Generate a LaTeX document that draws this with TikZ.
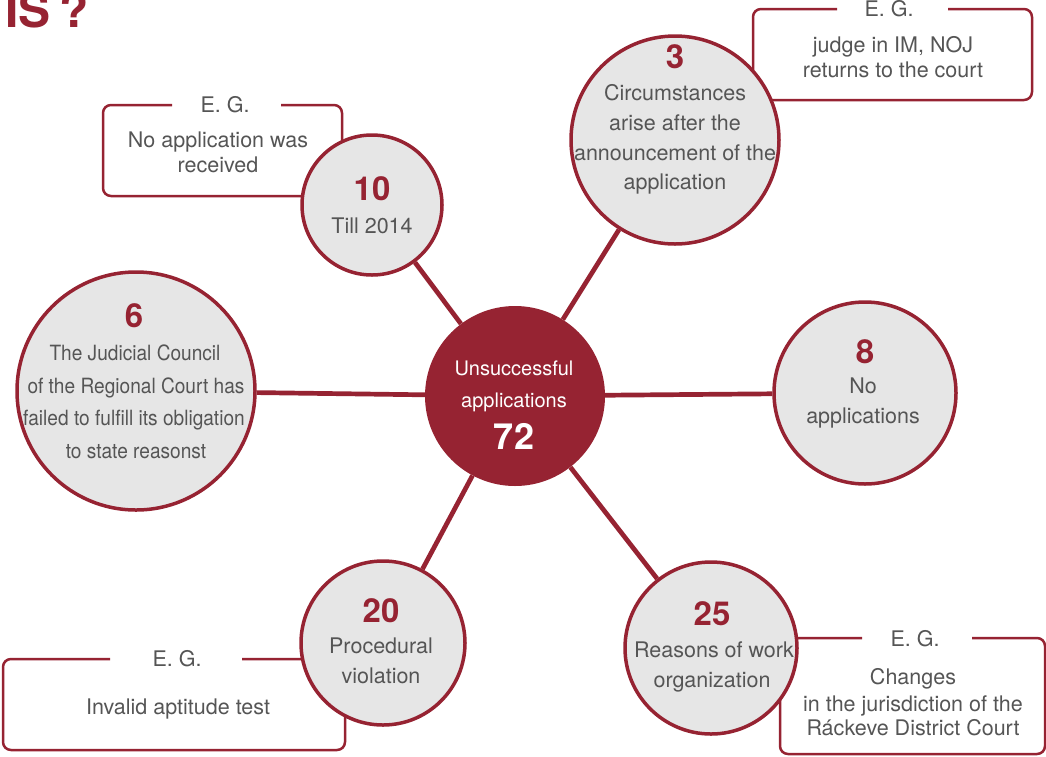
\documentclass[tikz,border=0pt]{standalone}
\usepackage{fontspec}
\setmainfont{TeX Gyre Heros}
\newfontfamily\condfont[FakeStretch=0.91]{TeX Gyre Heros}
\usetikzlibrary{backgrounds}
\definecolor{dred}{HTML}{962332}
\definecolor{tgray}{HTML}{555555}
\definecolor{cfill}{HTML}{E6E6E6}
\begin{document}
\begin{tikzpicture}[x=1pt,y=-1pt,
 circ/.style={circle,draw=dred,line width=3.5pt,fill=cfill,inner sep=0pt},
 hub/.style={circle,fill=dred,inner sep=0pt},
 conn/.style={draw=dred,line width=4.7pt},
 boxline/.style={draw=dred,line width=2.5pt,rounded corners=8pt},
 num/.style={anchor=base,inner sep=0pt,text=dred,font=\fontsize{33}{33}\selectfont\bfseries},
 txt/.style={anchor=base,inner sep=0pt,text=tgray,font=\fontsize{21.5}{24}\selectfont},
 ctxt/.style={anchor=base,inner sep=0pt,text=tgray,font=\fontsize{21}{24}\condfont},
 wtxt/.style={anchor=base,inner sep=0pt,text=white,font=\fontsize{20}{24}\selectfont},
]
\useasboundingbox (0,0) rectangle (1046,756);

% title
\node[anchor=base west,inner sep=0pt,text=dred,font=\fontsize{48}{48}\selectfont\bfseries] (title) at (5,27) {IS\hspace{9pt}?};

% circles
\node[hub,minimum size=180pt] (c) at (515,396) {};
\node[circ,minimum size=208pt] (n3) at (675,140) {};
\node[circ,minimum size=140pt] (n10) at (372,205) {};
\node[circ,minimum size=238pt] (n6) at (136,391) {};
\node[circ,minimum size=182pt] (n8) at (865,393) {};
\node[circ,minimum size=164pt] (n20) at (383,643) {};
\node[circ,minimum size=172pt] (n25) at (711,648) {};

\begin{pgfonlayer}{background}
% example boxes
\draw[boxline] (837,9) -- (753,9) -- (753,100) -- (1032,100) -- (1032,9) -- (948,9);
\draw[boxline] (172,105) -- (103,105) -- (103,196) -- (342,196) -- (342,105) -- (281,105);
\draw[boxline] (110,659) -- (3,659) -- (3,750) -- (345,750) -- (345,659) -- (242,659);
\draw[boxline] (862,638) -- (780,638) -- (780,754) -- (1045,754) -- (1045,638) -- (972,638);
% connectors
\draw[conn] (c) -- (n3);
\draw[conn] (c) -- (n10);
\draw[conn] (c) -- (n6);
\draw[conn] (c) -- (n8);
\draw[conn] (c) -- (n20);
\draw[conn] (c) -- (n25);
\end{pgfonlayer}

% hub text
\node[wtxt] (c1) at (514,375) {Unsuccessful};
\node[wtxt] (c2) at (514,407) {applications};
\node[anchor=base,inner sep=0pt,text=white,font=\fontsize{36}{36}\selectfont\bfseries] (c3) at (514,449) {72};

% circle 3
\node[num] (t3n) at (675,68) {3};
\node[txt] (t3a) at (675,100) {Circumstances};
\node[txt] (t3b) at (675,130) {arise after the};
\node[txt] (t3c) at (675,160) {announcement of the};
\node[txt] (t3d) at (675,189) {application};

% circle 10
\node[num] (t10n) at (372,200) {10};
\node[txt] (t10a) at (372,233) {Till 2014};

% circle 6
\node[num] (t6n) at (134,327) {6};
\node[ctxt] (t6a) at (135,360) {The Judicial Council};
\node[ctxt] (t6b) at (136,393) {of the Regional Court has};
\node[ctxt] (t6c) at (134,425) {failed to fulfill its obligation};
\node[ctxt] (t6d) at (136,458) {to state reasonst};

% circle 8
\node[num] (t8n) at (865,363) {8};
\node[txt] (t8a) at (863,393) {No};
\node[txt] (t8b) at (863,423) {applications};

% circle 20
\node[num] (t20n) at (381,622) {20};
\node[txt] (t20a) at (381,653) {Procedural};
\node[txt] (t20b) at (381,683) {violation};

% circle 25
\node[num] (t25n) at (712,625) {25};
\node[txt] (t25a) at (714,657) {Reasons of work};
\node[txt] (t25b) at (712,687) {organization};

% box texts
\node[txt] (eg1) at (889,16) {E. G.};
\node[txt] (b1a) at (893,52) {judge in IM, NOJ};
\node[txt] (b1b) at (893,77) {returns to the court};

\node[txt] (eg2) at (225,112) {E. G.};
\node[txt] (b2a) at (218,147) {No application was};
\node[txt] (b2b) at (218,172) {received};

\node[txt] (eg3) at (177,666) {E. G.};
\node[txt] (b3a) at (178,714) {Invalid aptitude test};

\node[txt] (eg4) at (915,646) {E. G.};
\node[txt] (b4a) at (913,684) {Changes};
\node[txt] (b4b) at (913,711) {in the jurisdiction of the};
\node[txt] (b4c) at (913,735) {Ráckeve District Court};
\end{tikzpicture}
\end{document}
